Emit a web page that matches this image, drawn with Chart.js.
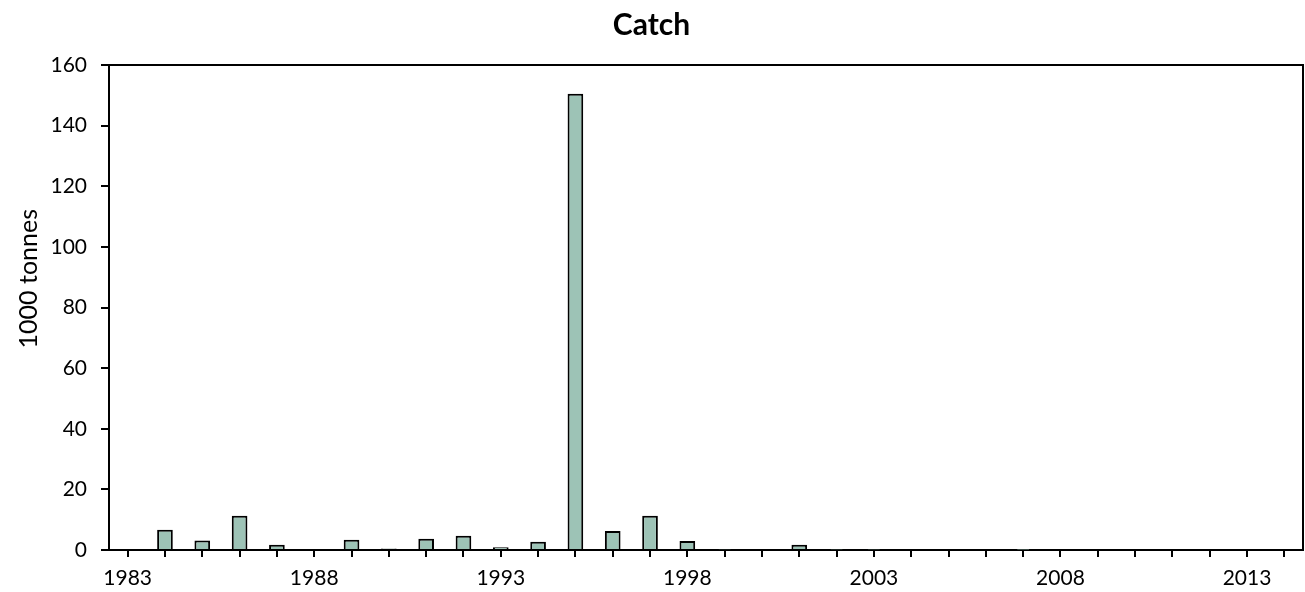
<!DOCTYPE html>
<html>
<head>
<meta charset="utf-8">
<title>Catch</title>
<script src="https://cdn.jsdelivr.net/npm/chart.js@4.4.1/dist/chart.umd.min.js"></script>
<style>
  html, body { margin: 0; padding: 0; background: #fff; }
  #wrap { width: 1305px; height: 592px; position: relative; }
</style>
</head>
<body>
<div id="wrap"><canvas id="catch-chart"></canvas></div>
<script>
// dados (1000 toneladas)
const years = ['1983','1984','1985','1986','1987','1988','1989','1990','1991','1992','1993','1994','1995','1996','1997','1998',
               '1999','2000','2001','2002','2003','2004','2005','2006','2007','2008','2009','2010','2011','2012','2013','2014'];
const catchValues = [0, 6.7, 3.1, 11.3, 1.75, 0, 3.4, 0.5, 3.7, 4.7, 0.9, 2.7, 150.5, 6.3, 11.3, 3.0,
                     0.2, 0.3, 1.75, 0.1, 0.1, 0, 0, 0, 0.05, 0, 0, 0, 0, 0, 0, 0];
const labeledYears = ['1983','1988','1993','1998','2003','2008','2013'];
const yTicks = [0, 20, 40, 60, 80, 100, 120, 140, 160];

const FONT = 'Lato, "Open Sans", sans-serif';

// moldura em cima e à direita da área do gráfico
const frame = {
    id: 'frame',
    afterDraw(chart) {
        const { ctx, chartArea: a } = chart;
        ctx.save();
        ctx.strokeStyle = '#000';
        ctx.lineWidth = 2;
        ctx.beginPath();
        ctx.moveTo(a.left, a.top);
        ctx.lineTo(a.right, a.top);
        ctx.lineTo(a.right, a.bottom);
        ctx.stroke();
        ctx.restore();
    }
};

const ctx = document.getElementById('catch-chart').getContext('2d');
new Chart(ctx, {
    type: 'bar',
    data: {
        labels: years,
        datasets: [{
            label: 'Catch',
            data: catchValues,
            backgroundColor: '#9dc3b6',
            borderColor: '#000',
            borderWidth: 2,
            categoryPercentage: 1,
            barPercentage: 0.42
        }]
    },
    options: {
        responsive: true,
        maintainAspectRatio: false,
        animation: false,
        devicePixelRatio: 1,
        layout: { padding: { left: 0, right: 2, top: 0, bottom: 0 } },
        plugins: {
            legend: { display: false },
            tooltip: { enabled: false },
            title: {
                display: true,
                text: 'Catch',
                color: '#000',
                font: { family: FONT, size: 30, weight: 'bold' },
                padding: { top: 7, bottom: 22 }
            }
        },
        scales: {
            x: {
                offset: true,
                afterFit: s => { s.height = 42; },
                grid: { offset: false, drawOnChartArea: false, color: '#000', lineWidth: 2, tickLength: 7 },
                border: { color: '#000', width: 2 },
                ticks: {
                    autoSkip: false,
                    maxRotation: 0,
                    padding: 9,
                    color: '#000',
                    font: { family: FONT, size: 21 },
                    callback: function(v) {
                        const y = this.getLabelForValue(v);
                        return labeledYears.includes(y) ? y : '';
                    }
                }
            },
            y: {
                min: 0,
                max: 160,
                afterFit: s => { s.width = 109; },
                afterBuildTicks: s => { s.ticks = yTicks.map(v => ({ value: v })); },
                grid: { drawOnChartArea: false, color: '#000', lineWidth: 2, tickLength: 8 },
                border: { color: '#000', width: 2 },
                ticks: { padding: 14, color: '#000', font: { family: FONT, size: 21 } },
                title: {
                    display: true,
                    text: '         1000 tonnes',
                    color: '#000',
                    font: { family: FONT, size: 25 },
                    padding: { top: 14, bottom: 0 }
                }
            }
        }
    },
    plugins: [frame]
});
</script>
</body>
</html>
